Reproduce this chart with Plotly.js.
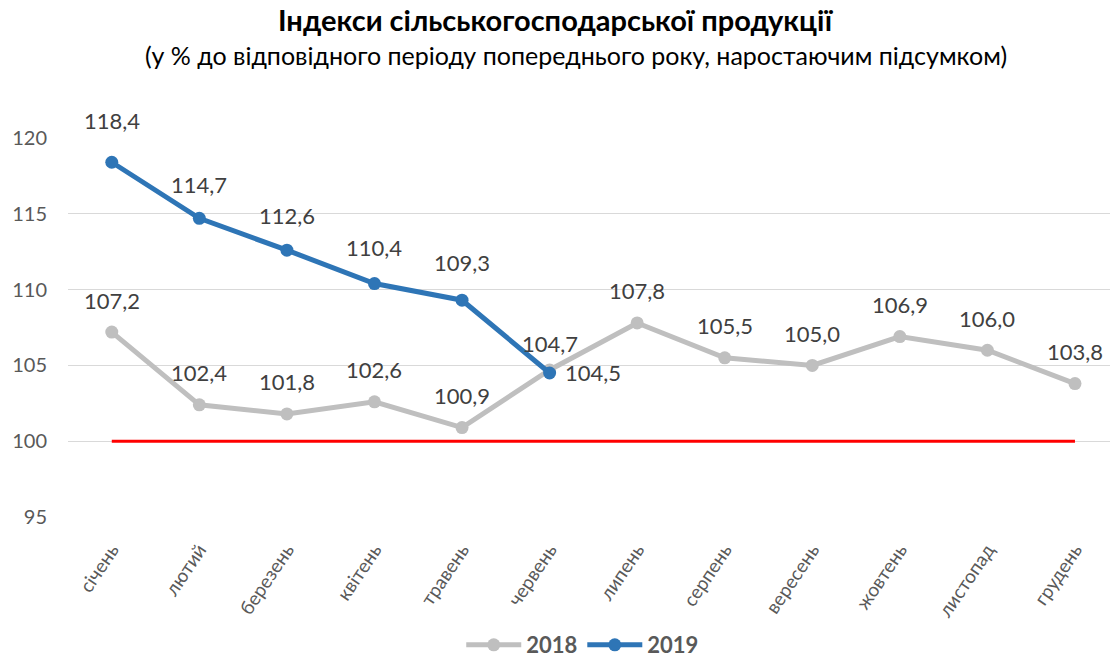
<!DOCTYPE html>
<html>
<head>
<meta charset="utf-8">
<script src="https://cdn.plot.ly/plotly-3.0.1.min.js"></script>
<style>html,body{margin:0;padding:0;background:#fff;}#chart{width:1110px;height:659px;}</style>
</head>
<body>
<div id="chart"></div>
<script>
const months = ["січень","лютий","березень","квітень","травень","червень","липень","серпень","вересень","жовтень","листопад","грудень"];
const values2018 = [107.2,102.4,101.8,102.6,100.9,104.7,107.8,105.5,105.0,106.9,106.0,103.8];
const months2019 = ["січень","лютий","березень","квітень","травень","червень"];
const values2019 = [118.4,114.7,112.6,110.4,109.3,104.5];
const baseline = [100,100,100,100,100,100,100,100,100,100,100,100];
const yTicks = [95,100,105,110,115,120];

const FONT = "Lato, 'Open Sans', sans-serif";
const fmt = v => v.toFixed(1).replace('.', ',');

const traces = [
  {x: months, y: baseline, mode: 'lines', line: {color: '#FF0000', width: 3}, showlegend: false, hoverinfo: 'skip'},
  {x: months, y: values2018, name: '2018', mode: 'lines+markers',
   line: {color: '#BFBFBF', width: 5}, marker: {color: '#BFBFBF', size: 13}},
  {x: months2019, y: values2019, name: '2019', mode: 'lines+markers',
   line: {color: '#2E75B6', width: 5}, marker: {color: '#2E75B6', size: 13}}
];

const labelFont = {family: FONT, size: 22, color: '#404040'};
const annotations = [];
months.forEach((m, i) => {
  annotations.push({x: m, y: values2018[i], text: fmt(values2018[i]), showarrow: false,
    yshift: i === 5 ? 26 : 32, font: labelFont});
});
months2019.forEach((m, i) => {
  const last = i === months2019.length - 1;
  annotations.push({x: m, y: values2019[i], text: fmt(values2019[i]), showarrow: false,
    xanchor: last ? 'left' : 'center', xshift: last ? 13 : 0,
    yshift: last ? 0 : (i === 0 ? 42 : 32 + i * 1.5), font: labelFont});
});
annotations.push({xref: 'paper', yref: 'paper', x: 0.4875, y: 1 + (138 - 55) / 379, yanchor: 'middle',
  xanchor: 'center', showarrow: false,
  text: '(у % до відповідного періоду попереднього року, наростаючим підсумком)',
  font: {family: FONT, size: 25, color: '#000'}});

const layout = {
  width: 1110, height: 659,
  margin: {l: 68, r: 0, t: 138, b: 142, autoexpand: false},
  paper_bgcolor: '#fff', plot_bgcolor: '#fff',
  font: {family: FONT, color: '#595959'},
  title: {
    text: '<b>Індекси сільськогосподарської продукції</b>',
    font: {family: FONT, size: 29, color: '#000'},
    x: 0.5, xanchor: 'center', yref: 'container', y: 1 - 21 / 659, yanchor: 'middle'
  },
  xaxis: {
    type: 'category', categoryarray: months, range: [-0.5, 11.4],
    showgrid: false, zeroline: false, showline: false, ticks: '',
    tickangle: -56, ticklabelstandoff: 17, automargin: false,
    tickfont: {family: FONT, size: 19, color: '#595959'},
    fixedrange: true
  },
  yaxis: {
    range: [95, 120], tickvals: yTicks, ticktext: yTicks.map(String),
    showgrid: true, gridcolor: '#D9D9D9', gridwidth: 1, zeroline: false, showline: false,
    ticks: '', ticklabelstandoff: 20, automargin: false,
    tickfont: {family: FONT, size: 20, color: '#595959'}, fixedrange: true
  },
  legend: {orientation: 'h', x: 0.494, xanchor: 'center', yref: 'container', y: 14 / 659, yanchor: 'middle',
    font: {family: FONT, size: 22, color: '#595959', weight: 'bold'}, itemwidth: 55},
  annotations: annotations,
  showlegend: true
};

Plotly.newPlot('chart', traces, layout, {displayModeBar: false, staticPlot: true});
</script>
</body>
</html>
